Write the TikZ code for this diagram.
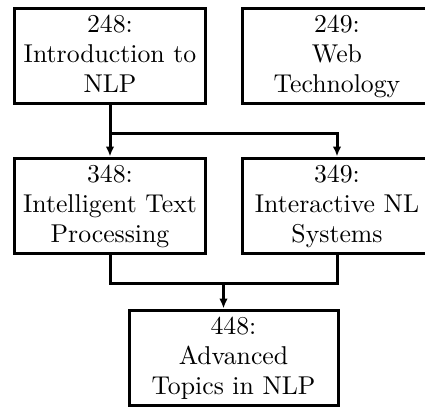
\documentclass[tikz,border=0pt]{standalone}
\usetikzlibrary{arrows.meta}
\begin{document}
\begin{tikzpicture}[x=0.4pt,y=-0.4pt,
  course/.style={draw,line width=1.2pt,minimum width=76pt,minimum height=38pt,inner sep=0pt,align=center,text height=30.5pt,text depth=1pt,font=\fontsize{10.3}{12}\selectfont},
  conn/.style={line width=1.2pt},
  arr/.style={line width=1.2pt,-{Latex[length=4pt,width=3.4pt]}}]
\useasboundingbox (0,0) rectangle (425,408);
\node[course] (n248) at (110,55.5) {248:\\Introduction to\\NLP};
\node[course] (n249) at (337,55.5) {249:\\Web\\Technology};
\node[course] (n348) at (110,205.5) {348:\\Intelligent Text\\Processing};
\node[course] (n349) at (337,205.5) {349:\\Interactive NL\\Systems};
\node[course,minimum width=83.6pt] (n448) at (233.5,357.5) {448:\\Advanced\\Topics in NLP};
\coordinate (j1) at (110,133);
\coordinate (j2) at (223.5,283);
\draw[conn] (n248.south) -- (j1);
\draw[arr] (j1) -- (n348.north);
\draw[arr] (j1) -| (n349.north);
\draw[conn] (n348.south) |- (j2);
\draw[conn] (n349.south) |- (j2);
\draw[arr] (j2) -- (j2 |- n448.north);
\end{tikzpicture}
\end{document}
